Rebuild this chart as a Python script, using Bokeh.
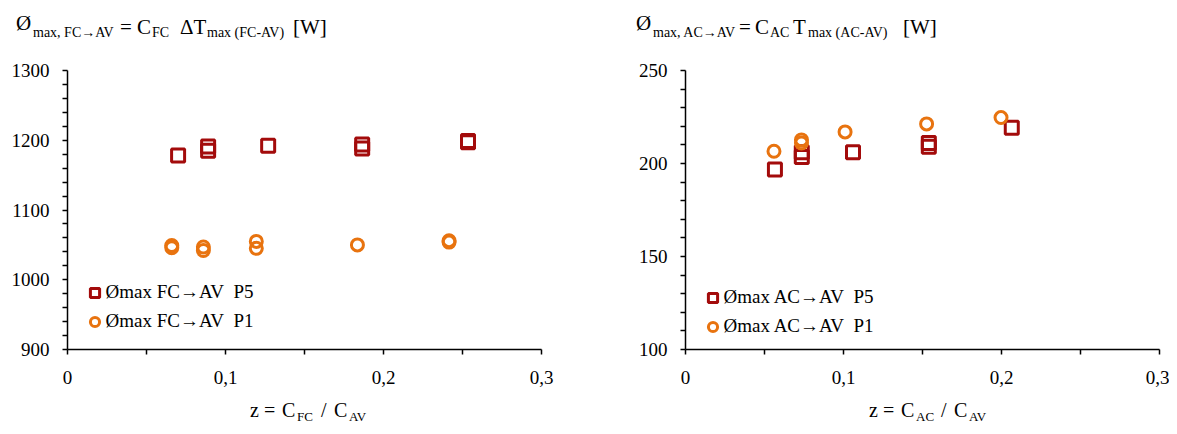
from bokeh.plotting import figure
from bokeh.layouts import row, column
from bokeh.models import Range1d, FixedTicker, Legend, LegendItem, Div
from bokeh.embed import file_html
from bokeh.resources import INLINE

# ---------------- data ----------------
# Left chart: FC -> AV
fc_z_p5 = [0.070, 0.089, 0.089, 0.127, 0.1865, 0.1865, 0.2535, 0.2535]
fc_phi_p5 = [1178, 1191, 1185, 1192, 1194, 1188, 1199, 1197]
fc_z_p1 = [0.066, 0.066, 0.086, 0.086, 0.1195, 0.1195, 0.1835, 0.2415, 0.2415]
fc_phi_p1 = [1049, 1046, 1047, 1042, 1055, 1045, 1050, 1056, 1054]

# Right chart: AC -> AV
ac_z_p5 = [0.0566, 0.0736, 0.0736, 0.106, 0.154, 0.154, 0.2065]
ac_phi_p5 = [196.8, 206.0, 203.5, 206.0, 211.0, 209.0, 219.2]
ac_z_p1 = [0.056, 0.0734, 0.0734, 0.101, 0.1526, 0.1997]
ac_phi_p1 = [206.6, 212.7, 211.0, 217.0, 221.3, 224.7]

x_ticks = [0, 0.1, 0.2, 0.3]
x_minor = [0.05, 0.15, 0.25]
x_tick_labels = ["0", "0,1", "0,2", "0,3"]
fc_y_ticks = [900, 1000, 1100, 1200, 1300]
fc_y_minor = [920, 940, 960, 980, 1020, 1040, 1060, 1080, 1120, 1140, 1160, 1180,
              1220, 1240, 1260, 1280]
ac_y_ticks = [100, 150, 200, 250]
ac_y_minor = [110, 120, 130, 140, 160, 170, 180, 190, 210, 220, 230, 240]

fc_legend = ["\u00d8max FC\u2192AV\u00a0 P5", "\u00d8max FC\u2192AV\u00a0 P1"]
ac_legend = ["\u00d8max AC\u2192AV\u00a0 P5", "\u00d8max AC\u2192AV\u00a0 P1"]

# title / axis-label pieces: (text, page x, page baseline y, font px)
fc_title = [("\u00d8", 16, 31, 21), ("max, FC\u2192AV", 33, 38, 14), ("=", 120, 35, 21),
            ("C", 137, 35, 21), ("FC", 152, 38, 14), ("\u0394T", 180, 35, 21),
            ("max (FC-AV)", 207, 38, 14), ("[W]", 293, 35, 21)]
ac_title = [("\u00d8", 636, 31, 21), ("max, AC\u2192AV", 653, 38, 14), ("=", 739, 35, 21),
            ("C", 755, 35, 21), ("AC", 770, 38, 14), ("T", 793, 35, 21),
            ("max (AC-AV)", 808, 38, 14), ("[W]", 903, 35, 21)]
fc_xlabel = [("z", 250, 417, 20), ("=", 264, 417, 20), ("C", 282, 417, 20), ("FC", 297, 421, 13),
             ("/", 321, 417, 20), ("C", 334, 417, 20), ("AV", 349, 421, 13)]
ac_xlabel = [("z", 869, 417, 20), ("=", 883, 417, 20), ("C", 901, 417, 20), ("AC", 916, 421, 13),
             ("/", 941, 417, 20), ("C", 954, 417, 20), ("AV", 969, 421, 13)]

FONT = "Liberation Serif"
DARK_RED = "#A30B0B"
ORANGE = "#E8730F"

TITLE_H = 50
FIG_TOP = 20
FRAME_H = 279
FIG_BOTTOM = 45
XLAB_H = 36
LEFT_W = 618
RIGHT_W = 551


def make_fig(y_range, y_ticks, y_minor, border_right):
    p = figure(frame_width=474, frame_height=FRAME_H, min_border_left=67,
               min_border_right=border_right, min_border_top=FIG_TOP,
               min_border_bottom=FIG_BOTTOM,
               x_range=Range1d(0, 0.3), y_range=Range1d(*y_range),
               output_backend="svg", toolbar_location=None)
    p.outline_line_color = None
    p.grid.visible = False
    p.background_fill_color = "white"
    p.border_fill_color = "white"
    p.xaxis.ticker = FixedTicker(ticks=x_ticks, minor_ticks=x_minor)
    p.xaxis.major_label_overrides = {t: s for t, s in zip(x_ticks, x_tick_labels)}
    p.yaxis.ticker = FixedTicker(ticks=y_ticks, minor_ticks=y_minor)
    for ax in (p.xaxis[0], p.yaxis[0]):
        ax.axis_line_color = "black"
        ax.axis_line_width = 1.5
        ax.major_tick_line_color = "black"
        ax.major_tick_line_width = 1.5
        ax.major_tick_out = 5
        ax.major_tick_in = 0
        ax.minor_tick_line_color = "black"
        ax.minor_tick_line_width = 1.5
        ax.minor_tick_out = 5
        ax.minor_tick_in = 0
        ax.major_label_text_font = FONT
        ax.major_label_text_font_size = "19px"
        ax.major_label_text_color = "black"
    p.xaxis.major_label_standoff = 16
    p.yaxis.major_label_standoff = 13
    return p


def pieces_div(pieces, x0, y0, w, h):
    parts = []
    for txt, px, py, size in pieces:
        top = py - y0 - 0.8375 * size
        parts.append(
            f'<span style="position:absolute;left:{px - x0}px;top:{top:.1f}px;'
            f'font-size:{size}px;line-height:{size}px;white-space:pre">{txt}</span>')
    html = (f'<div style="position:relative;width:{w}px;height:{h}px;'
            f"font-family:'{FONT}',serif;color:#000;overflow:visible\">"
            + "".join(parts) + "</div>")
    return Div(text=html, width=w, height=h, margin=0)


def add_series(p, zs5, vs5, zs1, vs1, labels, loc):
    r5 = p.scatter(zs5, vs5, marker="square", size=13, line_color=DARK_RED,
                   line_width=3, fill_color=None)
    r1 = p.scatter(zs1, vs1, marker="circle", size=12, line_color=ORANGE,
                   line_width=3, fill_color=None)
    leg = Legend(items=[LegendItem(label=labels[0], renderers=[r5]),
                        LegendItem(label=labels[1], renderers=[r1])],
                 location=loc, border_line_color=None, background_fill_alpha=0,
                 padding=0, margin=0, spacing=6, glyph_width=23, glyph_height=23,
                 label_height=23, label_standoff=0, label_text_font=FONT,
                 label_text_font_size="19px", label_text_color="black")
    p.add_layout(leg)


xlab_top = TITLE_H + FIG_TOP + FRAME_H + FIG_BOTTOM

p1 = make_fig((900, 1300), fc_y_ticks, fc_y_minor, LEFT_W - 67 - 474)
add_series(p1, fc_z_p5, fc_phi_p5, fc_z_p1, fc_phi_p1, fc_legend, (15.5, 16.5))
t1 = pieces_div(fc_title, 0, 0, LEFT_W, TITLE_H)
x1 = pieces_div(fc_xlabel, 0, xlab_top, LEFT_W, XLAB_H)

p2 = make_fig((100, 250), ac_y_ticks, ac_y_minor, RIGHT_W - 67 - 474)
add_series(p2, ac_z_p5, ac_phi_p5, ac_z_p1, ac_phi_p1, ac_legend, (15.5, 11.5))
t2 = pieces_div(ac_title, LEFT_W, 0, RIGHT_W, TITLE_H)
x2 = pieces_div(ac_xlabel, LEFT_W, xlab_top, RIGHT_W, XLAB_H)

layout = row(column(t1, p1, x1), column(t2, p2, x2))
open("out.html", "w").write(file_html(layout, INLINE))
